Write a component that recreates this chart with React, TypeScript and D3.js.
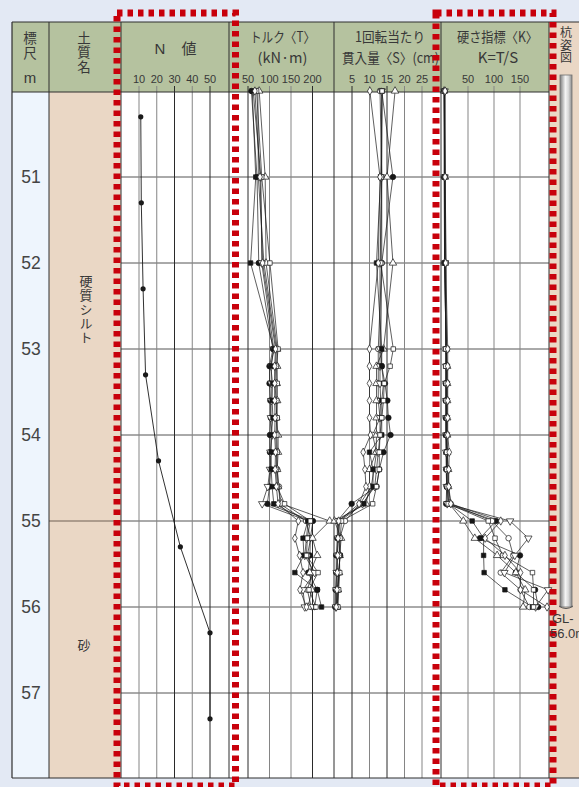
import React from 'react';
import * as d3 from 'd3';

// depths (m) of the rotary penetration records
const depths = [50, 51, 52, 53, 53.2, 53.4, 53.6, 53.8, 54, 54.2, 54.4, 54.6, 54.8, 55, 55.2, 55.4, 55.6, 55.8, 56];

// SPT N values
const nDepths = [50.3, 51.3, 52.3, 53.3, 54.3, 55.3, 56.3, 57.3];
const nValues = [11, 11.3, 12.3, 13.7, 21, 33.3, 50, 50];

// torque T (kN·m), one row per record
const torque = [
  [58, 71, 75, 108, 100, 100, 102, 103, 101, 101, 103, 100, 95, 201, 195, 194, 190, 211, 205],
  [73, 74, 87, 116, 114, 113, 115, 117, 115, 116, 118, 122, 124, 185, 196, 188, 200, 188, 197],
  [76, 90, 92, 118, 118, 117, 118, 116, 120, 120, 118, 120, 128, 240, 200, 211, 194, 198, 190],
  [62, 80, 82, 110, 104, 104, 104, 103, 106, 102, 101, 96, 83, 190, 186, 182, 205, 178, 182],
  [60, 68, 56, 110, 103, 107, 106, 108, 104, 104, 104, 106, 110, 189, 178, 180, 159, 211, 221],
  [70, 82, 101, 120, 116, 118, 117, 118, 117, 118, 116, 118, 135, 195, 188, 186, 213, 192, 208],
  [66, 78, 84, 114, 112, 112, 112, 113, 112, 114, 113, 116, 120, 167, 159, 170, 178, 171, 186],
];

// penetration per revolution S (cm)
const penetration = [
  [13.5, 16.7, 13.5, 13.2, 13.5, 14.4, 15.1, 15.4, 16, 14, 12.8, 12, 4.9, 0.8, 0.8, 0.5, 0.5, 0.3, 0.2],
  [13, 13.5, 13.5, 12.5, 12.5, 12.5, 12.5, 13, 10.9, 12, 11.3, 10.5, 7.3, 3, 1.5, 1.6, 1.2, 0.8, 0.6],
  [17.3, 15, 16.7, 14, 12, 12, 12, 12, 12, 11.9, 10, 10, 9, 0, 1.9, 1.5, 1.3, 1, 0.8],
  [13.5, 13.5, 13, 13, 13, 13, 13.2, 13, 13, 12.5, 12, 11.5, 8, 1, 1, 0.8, 0.6, 0.5, 0.4],
  [13.6, 13.2, 12, 13.5, 13.5, 14, 13.5, 13.5, 13.5, 10, 11, 11, 8.4, 1.5, 1.2, 1.6, 1.2, 1, 0.8],
  [13.6, 13.4, 13.2, 16.8, 15.9, 14.2, 14, 13.5, 13, 12.8, 12.8, 12, 10.9, 2, 1.6, 1.4, 1.5, 1.2, 1],
  [10.1, 13, 12.5, 10, 10, 10, 10, 10, 10.3, 8.2, 8.7, 9, 7, 1.2, 1, 0.9, 0.8, 0.7, 0.5],
];

// hardness index K = T/S
const hardness = [
  [4, 4, 5, 8, 8, 7, 7, 7, 7, 8, 8, 9, 8, 104, 73, 150, 142, 179, 185],
  [5, 5, 6, 9, 9, 9, 9, 9, 9, 10, 11, 12, 17, 96, 128, 137, 113, 151, 168],
  [4, 6, 5, 8, 10, 10, 10, 10, 10, 10, 12, 12, 14, 41, 63, 106, 142, 160, 156],
  [5, 5, 6, 8, 8, 8, 8, 8, 8, 8, 9, 9, 10, 131, 166, 140, 120, 204, 180],
  [4, 5, 5, 8, 8, 8, 8, 8, 8, 10, 9, 10, 13, 58, 80, 80, 81, 121, 174],
  [5, 6, 8, 7, 7, 8, 8, 9, 9, 9, 9, 10, 12, 89, 102, 117, 174, 176, 176],
  [6, 6, 7, 11, 11, 11, 11, 11, 11, 14, 13, 13, 17, 113, 83, 121, 151, 151, 202],
];

const depthLabels = [51, 52, 53, 54, 55, 56, 57];
const nTicks = [10, 20, 30, 40, 50];
const tTicks = [50, 100, 150, 200];
const sTicks = [5, 10, 15, 20, 25];
const kTicks = [50, 100, 150];

const markerKinds = ['circle', 'circle', 'triangle', 'triangleDown', 'square', 'square', 'diamond'];
const markerFilled = [true, false, false, false, true, false, false];

const JP = '"Noto Sans CJK JP", sans-serif';
const LAT = '"Liberation Sans", Arial, sans-serif';
const INK = '#383838';
const RED = '#c8000b';

const y = d3.scaleLinear().domain([50, 58]).range([91, 779]);
const xN = d3.scaleLinear().domain([0, 60]).range([121.25, 227.75]);
const xT = d3.scaleLinear().domain([0, 200]).range([226.5, 312.5]);
const xS = d3.scaleLinear().domain([0, 25]).range([334.5, 422]);
const xK = d3.scaleLinear().domain([0, 150]).range([442, 520]);

const symbolPath = (kind: string) => {
  const t =
    kind === 'circle' ? d3.symbolCircle :
    kind === 'square' ? d3.symbolSquare :
    kind === 'diamond' ? d3.symbolDiamond : d3.symbolTriangle;
  const size = kind === 'circle' ? 24 : kind === 'diamond' ? 20 : kind === 'square' ? 20 : 24;
  return d3.symbol().type(t).size(size)() as string;
};

function Records({ rows, x }: { rows: number[][]; x: d3.ScaleLinear<number, number> }) {
  const line = d3.line<number>().x((v) => x(v)).y((_, i) => y(depths[i]));
  return (
    <g>
      {rows.map((r, i) => (
        <path key={'l' + i} d={line(r) as string} fill="none" stroke="#1a1a1a" strokeWidth={0.7} />
      ))}
      {rows.map((r, i) =>
        r.map((v, j) => (
          <path
            key={'m' + i + '-' + j}
            d={symbolPath(markerKinds[i])}
            transform={`translate(${x(v)},${y(depths[j])})${markerKinds[i] === 'triangleDown' ? ' rotate(180)' : ''}`}
            fill={markerFilled[i] ? '#161616' : '#fff'}
            stroke="#161616"
            strokeWidth={0.7}
          />
        ))
      )}
    </g>
  );
}

function Grid({ ticks, x, dark }: { ticks: number[]; x: d3.ScaleLinear<number, number>; dark: boolean[] }) {
  return (
    <g>
      {ticks.map((t, i) => (
        <line key={t} x1={x(t)} x2={x(t)} y1={86} y2={778} stroke={dark[i] ? '#2a2a2a' : '#858585'} strokeWidth={1} />
      ))}
      {ticks.map((t) => (
        <text key={'t' + t} x={x(t)} y={83} fontSize={11} fontFamily={LAT} fill={INK} textAnchor="middle">
          {t}
        </text>
      ))}
    </g>
  );
}

// vertical (tategaki) label
function VText({ x, y0, size, gap, children }: { x: number; y0: number; size: number; gap: number; children: string }) {
  return (
    <text
      x={x}
      y={y0}
      fontSize={size}
      fontFamily={JP}
      fill={INK}
      style={{ writingMode: 'vertical-rl', letterSpacing: `${gap}px` }}
    >
      {children}
    </text>
  );
}

export default function App() {
  const nLine = d3.line<number>().x((v) => xN(v)).y((_, i) => y(nDepths[i]));
  const top = 22;
  const bottom = 778;
  const headBottom = 92;
  const cols = [49, 121, 229, 334, 441, 549];

  return (
    <svg width={579} height={787} style={{ position: 'absolute', left: 0, top: 0 }}>
      <defs>
        <linearGradient id="pile" x1="0" x2="1" y1="0" y2="0">
          <stop offset="0" stopColor="#7d7d7d" />
          <stop offset="0.45" stopColor="#f4f4f4" />
          <stop offset="0.7" stopColor="#d8d8d8" />
          <stop offset="1" stopColor="#8a8a8a" />
        </linearGradient>
      </defs>
      <rect x={0} y={0} width={579} height={787} fill="#e3e9f4" />

      {/* column backgrounds */}
      <rect x={12} y={top} width={537} height={headBottom - top} fill="#b5c29f" />
      <rect x={12} y={headBottom} width={37} height={bottom - headBottom} fill="#eef5fd" />
      <rect x={49} y={headBottom} width={72} height={bottom - headBottom} fill="#ead7c5" />
      <rect x={121} y={headBottom} width={428} height={bottom - headBottom} fill="#fff" />
      <rect x={549} y={top} width={30} height={bottom - top} fill="#ead7c5" />

      {/* depth grid */}
      {depthLabels.map((d) => (
        <line key={d} x1={121} x2={549} y1={y(d)} y2={y(d)} stroke="#555" strokeWidth={1} />
      ))}
      <line x1={49} x2={121} y1={y(55)} y2={y(55)} stroke="#6e6154" strokeWidth={1.2} />

      <Grid ticks={nTicks} x={xN} dark={[false, false, true, false, true]} />
      <Grid ticks={tTicks} x={xT} dark={[true, false, false, true]} />
      <Grid ticks={sTicks} x={xS} dark={[true, false, true, false, false]} />
      <Grid ticks={kTicks} x={xK} dark={[false, false, false]} />

      {/* table frame */}
      {cols.map((c) => (
        <line key={c} x1={c} x2={c} y1={top} y2={bottom} stroke="#2e2e2e" strokeWidth={1} />
      ))}
      <line x1={12} x2={12} y1={top} y2={bottom} stroke="#2e2e2e" strokeWidth={1.2} />
      <line x1={12} x2={579} y1={top} y2={top} stroke="#2e2e2e" strokeWidth={1} />
      <line x1={12} x2={549} y1={headBottom} y2={headBottom} stroke="#2e2e2e" strokeWidth={1} />
      <line x1={12} x2={579} y1={bottom} y2={bottom} stroke="#2e2e2e" strokeWidth={1.2} />

      {/* header text */}
      <VText x={30} y0={31} size={13.5} gap={1.5}>標尺</VText>
      <VText x={84} y0={31} size={13.5} gap={1}>土質名</VText>
      <VText x={566} y0={26.5} size={12} gap={0.5}>杭姿図</VText>
      <g fontFamily={JP} fill={INK} textAnchor="middle" fontSize={14}>
        <text x={30} y={83} fontFamily={LAT} fontSize={15}>m</text>
        <text x={160} y={54} fontFamily={LAT} fontSize={15}>N</text>
        <text x={189} y={54} fontSize={15}>値</text>
        <text x={282.5} y={42} textLength={65} lengthAdjust="spacingAndGlyphs">トルク〈T〉</text>
        <text x={282.5} y={63} textLength={50} lengthAdjust="spacingAndGlyphs">(kN·m)</text>
        <text x={390} y={42} textLength={70} lengthAdjust="spacingAndGlyphs">1回転当たり</text>
        <text x={342} y={63} textAnchor="start" textLength={97} lengthAdjust="spacingAndGlyphs">貫入量〈S〉(cm)</text>
        <text x={497.5} y={42} textLength={81} lengthAdjust="spacingAndGlyphs">硬さ指標〈K〉</text>
        <text x={498} y={63} fontSize={15}>K=T/S</text>
      </g>

      {/* depth labels */}
      {depthLabels.map((d) => (
        <text key={d} x={31} y={y(d)} dy="0.36em" fontSize={17.5} fontFamily={LAT} fill="#444" textAnchor="middle">
          {d}
        </text>
      ))}

      {/* soil names */}
      <VText x={86} y0={275} size={13} gap={1}>硬質シルト</VText>
      <text x={84} y={650} fontFamily={JP} fill={INK} fontSize={13} textAnchor="middle">砂</text>

      {/* N value */}
      <path d={nLine(nValues) as string} fill="none" stroke="#1a1a1a" strokeWidth={0.9} />
      {nValues.map((v, i) => (
        <circle key={i} cx={xN(v)} cy={y(nDepths[i])} r={2.6} fill="#1a1a1a" />
      ))}

      <Records rows={torque} x={xT} />
      <Records rows={penetration} x={xS} />
      <Records rows={hardness} x={xK} />

      {/* pile */}
      <rect x={560} y={75} width={12} height={y(56) - 75} fill="url(#pile)" stroke="#6f6f6f" strokeWidth={0.8} />
      <path d={`M559,${y(56) - 1} Q566,${y(56) + 4} 573,${y(56) - 1}`} fill="none" stroke="#555" strokeWidth={1} />

      {/* highlight frames */}
      <rect x={117} y={13} width={118.5} height={773} fill="none" stroke={RED} strokeWidth={7} strokeDasharray="5.5 5" />
      <rect x={436} y={13} width={117} height={773} fill="none" stroke={RED} strokeWidth={7} strokeDasharray="5.5 5" />

      <text x={552} y={623} fontSize={13} fontFamily={LAT} fill={INK}>GL-</text>
      <text x={550} y={638} fontSize={13} fontFamily={LAT} fill={INK}>56.0m</text>
    </svg>
  );
}
